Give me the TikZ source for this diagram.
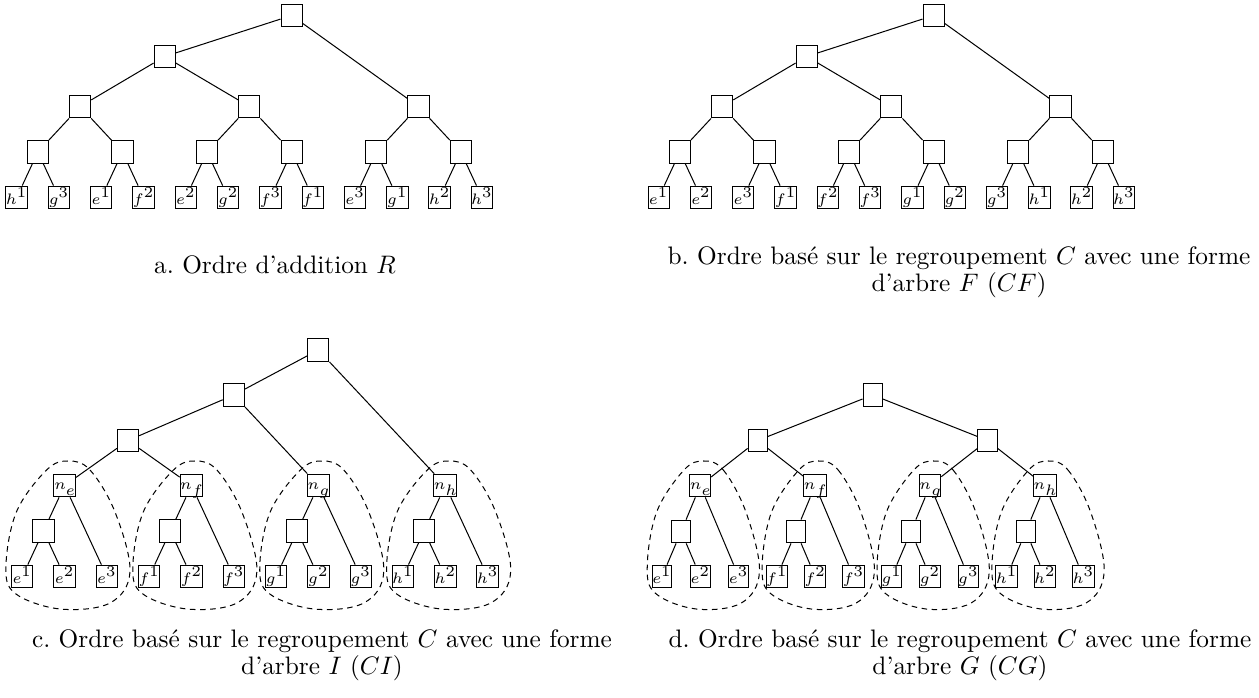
\documentclass[tikz,border=0pt]{standalone}
\usetikzlibrary{calc}
\newcommand\leafl[2]{$#1^{\textstyle #2}$}
\newcommand\subl[1]{$n$\raisebox{-2.4pt}{$#1$}}
\newcommand\binarytree[1]{%
  \node[box] (r) at (291.65,15.5) {};
  \node[box] (n1) at (164.75,56.5) {};
  \node[box] (n2a) at (80.15,106.5) {};
  \node[box] (n2b) at (249.35,106.5) {};
  \node[box] (n2c) at (418.55,106.5) {};
  \foreach \i/\x in {0/37.85,1/122.45,2/207.05,3/291.65,4/376.25,5/460.85}
    \node[box] (m\i) at (\x,152) {};
  \foreach \va/\vb [count=\i from 0] in {#1}
    \node[leafbox] (l\i) at ({16.7+42.3*\i},197.5) {\leafl{\va}{\vb}};
  \draw (r) -- (n1);
  \draw (r) -- (n2c);
  \draw (n1) -- (n2a);
  \draw (n1) -- (n2b);
  \draw (n2a) -- (m0); \draw (n2a) -- (m1);
  \draw (n2b) -- (m2); \draw (n2b) -- (m3);
  \draw (n2c) -- (m4); \draw (n2c) -- (m5);
  \foreach \i in {0,...,5}{
    \pgfmathtruncatemacro\lfa{2*\i}
    \pgfmathtruncatemacro\lfb{2*\i+1}
    \draw (m\i) -- (l\lfa);
    \draw (m\i) -- (l\lfb);
  }
}
\frenchspacing
\begin{document}
\begin{tikzpicture}[x=0.3953pt,y=-0.3953pt,
  box/.style={draw, minimum width=8.4pt, minimum height=9pt, inner sep=0pt, font=\fontsize{6.2}{7}\selectfont},
  leafbox/.style={box, text height=5.6pt, text depth=0.4pt},
  subbox/.style={box, text height=4pt, text depth=0.8pt},
  dbox/.style={box, minimum width=7.6pt},
  dleafbox/.style={leafbox, minimum width=7.6pt},
  dsubbox/.style={subbox, minimum width=7.6pt},
  grp/.style={dash pattern=on 2.2pt off 1.8pt},
  captext/.style={align=center, font=\fontsize{10}{9.5}\selectfont}]
\useasboundingbox (0,0) rectangle (1259,698);

% panel a
\begin{scope}[name prefix=a-]
  \binarytree{h/1,g/3,e/1,f/2,e/2,g/2,f/3,f/1,e/3,g/1,h/2,h/3}
\end{scope}
% panel b
\begin{scope}[name prefix=b-, shift={(642,0)}]
  \binarytree{e/1,e/2,e/3,f/1,f/2,f/3,g/1,g/2,g/3,h/1,h/2,h/3}
\end{scope}

% panel c
\node[box] (cr) at (318.3,350) {};
\node[box] (c1) at (233.8,395) {};
\node[box] (c2) at (128.05,440.5) {};
\foreach \g/\x in {e/64.6,f/191.5,g/318.4,h/445.3}{
  \node[subbox] (cn\g) at (\x,485.5) {\subl{\g}};
  \node[box] (ci\g) at (\x-21.15,531) {};
  \node[leafbox] (cl\g1) at (\x-42.3,576.5) {\leafl{\g}{1}};
  \node[leafbox] (cl\g2) at (\x,576.5) {\leafl{\g}{2}};
  \node[leafbox] (cl\g3) at (\x+42.3,576.5) {\leafl{\g}{3}};
  \draw (cn\g) -- (ci\g);
  \draw (cn\g) -- (cl\g3);
  \draw (ci\g) -- (cl\g1);
  \draw (ci\g) -- (cl\g2);
  \draw[grp, shift={(cn\g)}] plot[smooth cycle, tension=0.6] coordinates
    {(3.7,-24.5) (25.4,-15.5) (50.4,26.5) (65.4,86) (45.4,117.5) (-4.6,123.5) (-49.6,107.8) (-58.6,80) (-48,26) (-18,-15.5)};
}
\draw (cr) -- (c1);
\draw (cr) -- (cnh);
\draw (c1) -- (c2);
\draw (c1) -- (cng);
\draw (c2) -- (cne);
\draw (c2) -- (cnf);

% panel d
\node[dbox] (dr) at (872.65,395) {};
\node[dbox] (d1) at (757.75,440.5) {};
\node[dbox] (d2) at (987.55,440.5) {};
\foreach \g/\x in {e/700.3,f/815.2,g/930.1,h/1045.0}{
  \node[dsubbox] (dn\g) at (\x,485.5) {\subl{\g}};
  \node[dbox] (di\g) at (\x-19.15,531.5) {};
  \node[dleafbox] (dl\g1) at (\x-38.3,576.5) {\leafl{\g}{1}};
  \node[dleafbox] (dl\g2) at (\x,576.5) {\leafl{\g}{2}};
  \node[dleafbox] (dl\g3) at (\x+38.3,576.5) {\leafl{\g}{3}};
  \draw (dn\g) -- (di\g);
  \draw (dn\g) -- (dl\g3);
  \draw (di\g) -- (dl\g1);
  \draw (di\g) -- (dl\g2);
  \draw[grp, shift={(dn\g)}, xscale=0.905] plot[smooth cycle, tension=0.6] coordinates
    {(3.7,-24.5) (25.4,-15.5) (50.4,26.5) (65.4,86) (45.4,117.5) (-4.6,123.5) (-49.6,107.8) (-58.6,80) (-48,26) (-18,-15.5)};
}
\draw (dr) -- (d1);
\draw (dr) -- (d2);
\draw (d1) -- (dne);
\draw (d1) -- (dnf);
\draw (d2) -- (dng);
\draw (d2) -- (dnh);

% captions
\node[captext] (capa) at (275,265) {a. Ordre d'addition $R$};
\node[captext] (capb) at (959,272) {b. Ordre basé sur le regroupement $C$ avec une forme\\ d'arbre $F$ $(CF)$};
\node[captext] (capc) at (322,655) {c. Ordre basé sur le regroupement $C$ avec une forme\\ d'arbre $I$ $(CI)$};
\node[captext] (capd) at (960,655) {d. Ordre basé sur le regroupement $C$ avec une forme\\ d'arbre $G$ $(CG)$};
\end{tikzpicture}
\end{document}
